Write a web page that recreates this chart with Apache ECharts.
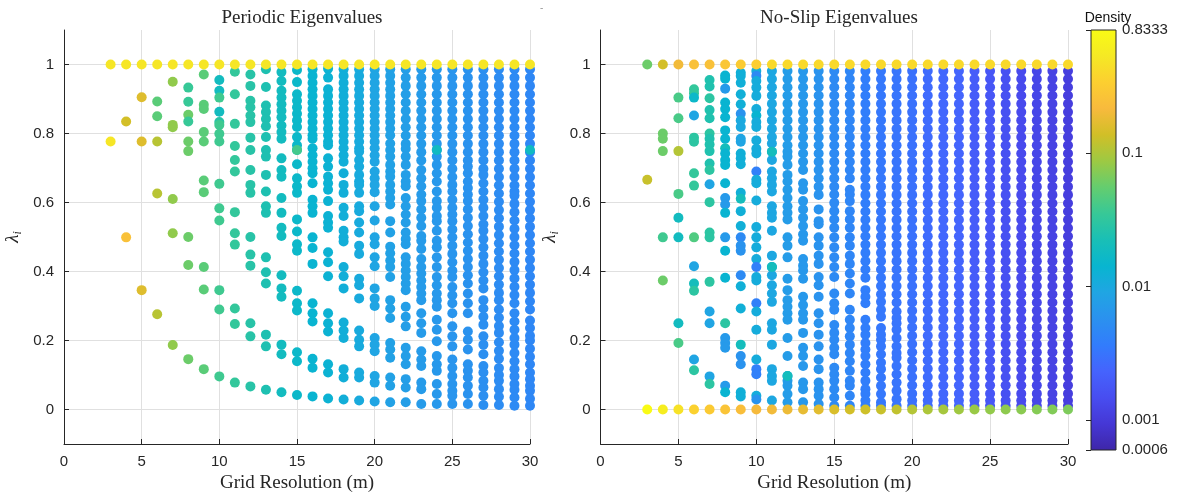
<!DOCTYPE html>
<html><head><meta charset="utf-8">
<script src="https://cdn.jsdelivr.net/npm/echarts@6/dist/echarts.min.js"></script>
<style>html,body{margin:0;padding:0;background:#fff}#c{width:1180px;height:498px}</style>
</head><body><div id="c"></div>
<script>
// ---------- DATA ----------
const gridM = [3,4,5,6,7,8,9,10,11,12,13,14,15,16,17,18,19,20,21,22,23,24,25,26,27,28,29,30];
const yTicks = [0, 0.2, 0.4, 0.6, 0.8, 1];
const xTicksInterval = 5;
const cbMajor = [0.0006, 0.001, 0.01, 0.1, 0.8333];
const cbMajorLabels = ['0.0006', '0.001', '0.01', '0.1', '0.8333'];
const cbMinor = [0.0007,0.0008,0.0009,0.002,0.003,0.004,0.005,0.006,0.007,0.008,0.009,0.02,0.03,0.04,0.05,0.06,0.07,0.08,0.09,0.2,0.3,0.4,0.5,0.6,0.7,0.8];

// Periodic: eigenvalues per grid resolution (excluding the row at 1)
const periodicVals = [
 [0.777],
 [0.835,0.499],
 [0.905,0.777,0.346],
 [0.893,0.850,0.777,0.626,0.276],
 [0.950,0.825,0.818,0.610,0.511,0.187],
 [0.933,0.892,0.854,0.835,0.777,0.749,0.500,0.419,0.146],
 [0.971,0.883,0.871,0.804,0.777,0.664,0.630,0.413,0.348,0.117],
 [0.955,0.924,0.904,0.863,0.833,0.825,0.799,0.777,0.654,0.583,0.548,0.346,0.290,0.096],
 [0.979,0.914,0.828,0.764,0.723,0.690,0.572,0.511,0.478,0.293,0.248,0.078],
 [0.971,0.938,0.895,0.876,0.852,0.833,0.788,0.752,0.694,0.651,0.628,0.500,0.449,0.417,0.250,0.212,0.067],
 [0.986,0.935,0.881,0.862,0.842,0.821,0.790,0.752,0.733,0.680,0.632,0.589,0.570,0.441,0.398,0.365,0.217,0.183,0.057],
 [0.978,0.952,0.924,0.904,0.885,0.866,0.847,0.823,0.804,0.785,0.728,0.694,0.675,0.613,0.570,0.527,0.503,0.389,0.351,0.327,0.188,0.160,0.050],
 [0.984,0.949,0.914,0.895,0.876,0.857,0.838,0.819,0.790,0.766,0.752,0.711,0.670,0.647,0.628,0.551,0.516,0.479,0.460,0.344,0.308,0.287,0.166,0.140,0.042],
 [0.986,0.967,0.947,0.928,0.909,0.890,0.871,0.852,0.833,0.814,0.795,0.785,0.757,0.737,0.718,0.699,0.685,0.656,0.608,0.589,0.570,0.499,0.468,0.422,0.308,0.279,0.255,0.147,0.121,0.038],
 [0.988,0.962,0.928,0.909,0.890,0.871,0.852,0.833,0.814,0.795,0.776,0.766,0.728,0.704,0.675,0.656,0.637,0.604,0.561,0.542,0.527,0.456,0.427,0.386,0.279,0.250,0.226,0.131,0.107,0.032],
 [0.986,0.967,0.947,0.928,0.909,0.890,0.871,0.852,0.833,0.814,0.795,0.776,0.757,0.737,0.718,0.685,0.651,0.628,0.585,0.561,0.518,0.499,0.487,0.413,0.386,0.351,0.252,0.229,0.207,0.117,0.093,0.029],
 [0.986,0.967,0.947,0.928,0.909,0.890,0.871,0.852,0.833,0.814,0.795,0.776,0.757,0.747,0.723,0.704,0.680,0.661,0.651,0.628,0.589,0.575,0.542,0.513,0.475,0.451,0.379,0.360,0.322,0.229,0.202,0.183,0.107,0.093,0.026],
 [0.986,0.967,0.947,0.928,0.909,0.890,0.871,0.852,0.833,0.814,0.795,0.776,0.757,0.737,0.718,0.690,0.670,0.651,0.630,0.589,0.548,0.499,0.479,0.441,0.415,0.351,0.322,0.300,0.207,0.188,0.169,0.097,0.078,0.023],
 [0.986,0.967,0.947,0.928,0.909,0.890,0.871,0.852,0.833,0.814,0.795,0.771,0.752,0.733,0.709,0.690,0.675,0.651,0.632,0.613,0.594,0.546,0.513,0.472,0.453,0.432,0.413,0.384,0.317,0.293,0.265,0.193,0.174,0.150,0.093,0.069,0.021],
 [0.986,0.962,0.938,0.914,0.890,0.866,0.842,0.818,0.794,0.770,0.756,0.733,0.709,0.680,0.661,0.647,0.613,0.589,0.565,0.542,0.513,0.494,0.479,0.441,0.422,0.403,0.384,0.365,0.346,0.298,0.269,0.241,0.179,0.155,0.131,0.088,0.064,0.021],
 [0.986,0.962,0.938,0.914,0.890,0.866,0.842,0.818,0.794,0.770,0.746,0.722,0.694,0.670,0.647,0.623,0.604,0.580,0.556,0.532,0.503,0.489,0.465,0.436,0.413,0.394,0.374,0.355,0.336,0.317,0.279,0.250,0.222,0.169,0.145,0.126,0.078,0.059,0.016],
 [0.986,0.962,0.938,0.914,0.890,0.866,0.842,0.818,0.794,0.770,0.752,0.733,0.709,0.685,0.661,0.632,0.604,0.585,0.561,0.546,0.518,0.489,0.470,0.441,0.413,0.384,0.360,0.336,0.317,0.298,0.260,0.231,0.198,0.155,0.131,0.112,0.074,0.045,0.016],
 [0.986,0.962,0.938,0.914,0.890,0.866,0.842,0.818,0.794,0.770,0.746,0.722,0.698,0.674,0.651,0.632,0.608,0.585,0.565,0.546,0.522,0.499,0.475,0.451,0.427,0.403,0.384,0.355,0.331,0.308,0.279,0.241,0.212,0.183,0.145,0.121,0.097,0.074,0.054,0.040,0.016],
 [0.986,0.962,0.938,0.914,0.890,0.866,0.842,0.818,0.794,0.770,0.746,0.722,0.704,0.685,0.661,0.642,0.623,0.604,0.580,0.556,0.532,0.508,0.484,0.460,0.436,0.413,0.389,0.365,0.336,0.308,0.279,0.226,0.202,0.174,0.131,0.112,0.093,0.069,0.045,0.016],
 [0.986,0.962,0.938,0.914,0.890,0.866,0.842,0.818,0.794,0.770,0.746,0.722,0.698,0.680,0.656,0.632,0.608,0.585,0.561,0.537,0.518,0.494,0.470,0.446,0.422,0.398,0.374,0.351,0.317,0.293,0.269,0.246,0.212,0.188,0.160,0.126,0.107,0.083,0.064,0.040,0.013],
 [0.986,0.962,0.938,0.914,0.890,0.866,0.842,0.818,0.794,0.770,0.746,0.722,0.698,0.674,0.650,0.626,0.602,0.578,0.554,0.530,0.506,0.482,0.458,0.434,0.410,0.386,0.362,0.338,0.317,0.290,0.266,0.242,0.222,0.195,0.170,0.147,0.120,0.100,0.083,0.059,0.037,0.013],
 [0.986,0.962,0.938,0.914,0.890,0.866,0.842,0.818,0.794,0.770,0.746,0.722,0.698,0.674,0.650,0.632,0.620,0.596,0.572,0.548,0.524,0.500,0.476,0.452,0.428,0.404,0.380,0.356,0.332,0.308,0.279,0.255,0.231,0.207,0.188,0.164,0.140,0.117,0.096,0.074,0.057,0.035,0.011],
 [0.986,0.962,0.938,0.914,0.890,0.866,0.842,0.818,0.794,0.770,0.746,0.722,0.698,0.674,0.650,0.626,0.602,0.578,0.554,0.530,0.506,0.482,0.458,0.434,0.410,0.386,0.362,0.338,0.314,0.290,0.258,0.236,0.214,0.200,0.176,0.153,0.131,0.107,0.088,0.069,0.054,0.031,0.011]
];
// density per column (single value) or per point (list)
const periodicDens = [
 [0.5],
 [0.14,0.25],
 0.158,
 [0.05,0.05,0.11,0.11,0.11],
 0.079,
 [0.035,0.035,0.059,0.035,0.059,0.059,0.059,0.059,0.059],
 0.05,
 [0.019,0.019,0.038,0.019,0.028,0.038,0.038,0.038,0.038,0.038,0.038,0.038,0.038,0.038],
 0.033, 0.028, 0.024, 0.019, 0.016, 0.0140, 0.0132, 0.0118, 0.0105,
 0.009, 0.0083, 0.0077, 0.0072, 0.0068, 0.0063, 0.0059, 0.0055, 0.0052, 0.0049, 0.0046
];
const periodicTopDens = 0.5;
const periodicExtra = [[15,0.752,0.04],[24,0.752,0.018],[30,0.752,0.018]];

// No-slip: eigenvalues per grid resolution (excluding rows at 0 and 1)
const noslipFull = [0.981,0.958,0.934,0.910,0.886,0.862,0.838,0.814,0.790,0.766,0.742,0.718,0.694,0.670,0.646,0.622,0.598,0.574,0.550,0.526,0.502,0.478,0.454,0.430,0.406,0.382,0.358,0.334,0.310,0.286,0.262,0.238,0.214,0.190,0.166,0.142,0.118,0.094,0.070,0.046,0.026,0.011];
const noslipVals = [
 [0.666],
 [0.800,0.785,0.749,0.499,0.374],
 [0.904,0.844,0.749,0.625,0.556,0.499,0.250,0.193],
 [0.928,0.917,0.904,0.852,0.788,0.776,0.685,0.649,0.499,0.415,0.365,0.344,0.145,0.114],
 [0.955,0.936,0.902,0.868,0.844,0.800,0.785,0.768,0.749,0.713,0.694,0.653,0.601,0.513,0.499,0.370,0.284,0.250,0.096,0.074],
 [0.968,0.959,0.930,0.890,0.871,0.847,0.809,0.785,0.757,0.742,0.723,0.709,0.656,0.613,0.594,0.570,0.499,0.460,0.382,0.250,0.207,0.193,0.179,0.069,0.050],
 [0.976,0.967,0.947,0.914,0.885,0.857,0.838,0.819,0.785,0.776,0.742,0.728,0.711,0.628,0.611,0.575,0.532,0.499,0.475,0.460,0.389,0.357,0.293,0.188,0.155,0.131,0.050,0.038],
 [0.981,0.967,0.952,0.933,0.909,0.871,0.852,0.833,0.819,0.780,0.756,0.742,0.690,0.666,0.656,0.606,0.529,0.499,0.470,0.436,0.413,0.384,0.374,0.308,0.284,0.231,0.145,0.117,0.102,0.040,0.029],
 [0.981,0.958,0.934,0.910,0.886,0.862,0.838,0.814,0.790,0.771,0.747,0.723,0.690,0.670,0.651,0.632,0.589,0.570,0.556,0.518,0.446,0.413,0.389,0.360,0.336,0.312,0.250,0.231,0.188,0.117,0.097,0.083,0.026],
 [0.981,0.958,0.934,0.910,0.886,0.862,0.838,0.814,0.790,0.766,0.747,0.733,0.709,0.680,0.661,0.637,0.613,0.589,0.570,0.551,0.499,0.475,0.441,0.379,0.346,0.317,0.298,0.279,0.260,0.207,0.155,0.097,0.083,0.069,0.045,0.021],
 [0.981,0.958,0.934,0.910,0.886,0.862,0.838,0.814,0.790,0.766,0.742,0.718,0.694,0.656,0.637,0.604,0.580,0.556,0.532,0.508,0.489,0.436,0.417,0.403,0.379,0.327,0.303,0.279,0.260,0.222,0.179,0.155,0.126,0.078,0.059,0.021],
 [0.981,0.958,0.934,0.910,0.886,0.862,0.838,0.814,0.790,0.766,0.742,0.718,0.694,0.670,0.646,0.622,0.580,0.546,0.537,0.499,0.475,0.446,0.422,0.384,0.360,0.327,0.279,0.250,0.217,0.183,0.145,0.117,0.078,0.059,0.040,0.016],
 [0.981,0.958,0.934,0.910,0.886,0.862,0.838,0.814,0.790,0.766,0.742,0.718,0.694,0.670,0.646,0.623,0.599,0.575,0.551,0.527,0.499,0.470,0.441,0.413,0.384,0.336,0.308,0.289,0.245,0.222,0.202,0.179,0.160,0.121,0.102,0.083,0.059,0.035,0.011],
 [0.981,0.958,0.934,0.910,0.886,0.862,0.838,0.814,0.790,0.766,0.742,0.718,0.694,0.670,0.637,0.623,0.604,0.575,0.551,0.527,0.499,0.475,0.446,0.422,0.394,0.365,0.336,0.289,0.260,0.236,0.212,0.188,0.164,0.140,0.112,0.083,0.069,0.040,0.011],
 [0.981,0.958,0.934,0.910,0.886,0.862,0.838,0.814,0.790,0.766,0.742,0.718,0.694,0.670,0.646,0.622,0.598,0.574,0.550,0.526,0.502,0.478,0.454,0.430,0.406,0.382,0.346,0.327,0.308,0.260,0.236,0.217,0.193,0.174,0.155,0.131,0.107,0.083,0.059,0.045,0.026,0.011],
 [0.981,0.958,0.934,0.910,0.886,0.862,0.838,0.814,0.790,0.766,0.742,0.718,0.694,0.670,0.646,0.622,0.598,0.574,0.550,0.526,0.502,0.478,0.454,0.430,0.406,0.382,0.358,0.334,0.312,0.289,0.269,0.236,0.217,0.202,0.183,0.160,0.136,0.117,0.093,0.069,0.045,0.021,0.011],
 [0.981,0.958,0.934,0.910,0.886,0.862,0.838,0.814,0.790,0.766,0.742,0.718,0.694,0.670,0.646,0.622,0.598,0.574,0.550,0.526,0.502,0.478,0.454,0.430,0.406,0.382,0.358,0.334,0.310,0.284,0.265,0.250,0.231,0.207,0.183,0.164,0.150,0.126,0.102,0.078,0.054,0.030,0.011],
 noslipFull, noslipFull, noslipFull, noslipFull, noslipFull, noslipFull,
 noslipFull, noslipFull, noslipFull, noslipFull, noslipFull
];
const noslipDens = [
 [0.126],
 [0.059,0.059,0.059,0.038,0.059],
 [0.042,0.042,0.106,0.042,0.019,0.019,0.019,0.042],
 [0.033,0.033,0.016,0.009,0.03,0.03,0.033,0.033,0.045,0.009,0.02,0.03,0.009,0.03],
 [0.025,0.025,0.03,0.025,0.025,0.03,0.025,0.025,0.025,0.025,0.03,0.009,0.03,0.03,0.03,0.03,0.009,0.009,0.009,0.03],
 [0.014,0.014,0.007,0.014,0.014,0.014,0.014,0.014,0.02,0.014,0.014,0.014,0.014,0.007,0.007,0.014,0.007,0.014,0.014,0.03,0.007,0.007,0.007,0.007,0.014],
 [0.012,0.012,0.012,0.012,0.012,0.006,0.01,0.01,0.009,0.009,0.012,0.012,0.012,0.012,0.02,0.012,0.012,0.005,0.006,0.006,0.005,0.012,0.012,0.02,0.006,0.006,0.012,0.012],
 [0.011,0.005,0.011,0.011,0.011,0.011,0.014,0.011,0.011,0.011,0.011,0.011,0.004,0.011,0.011,0.011,0.011,0.011,0.011,0.011,0.004,0.011,0.011,0.004,0.011,0.011,0.011,0.004,0.004,0.011,0.006],
 0.0095, 0.0074, 0.0067, 0.006, 0.005, 0.0045, 0.0038, 0.0034, 0.0032,
 0.003, 0.0027, 0.0025, 0.0024, 0.002, 0.0018, 0.0016, 0.0014, 0.0013, 0.0012, 0.0011
];
const noslipTopDens = [0.059,0.14,0.2,0.25,0.25,0.28,0.31,0.33,0.4,0.4,0.4,0.4,0.4,0.4,0.4,0.4,0.4,0.4,0.4,0.4,0.4,0.4,0.4,0.4,0.4,0.4,0.4,0.4];
const noslipBottomDens = [0.83,0.59,0.47,0.35,0.3,0.265,0.236,0.21,0.2,0.188,0.177,0.167,0.149,0.14,0.133,0.126,0.119,0.106,0.1,0.094,0.089,0.084,0.08,0.077,0.075,0.072,0.07,0.068];
const noslipExtra = [[11,0.747,0.02],[11,0.413,0.02],[12,0.097,0.02]];

// ---------- BUILD ----------
const PARULA = ['#3e26a8','#4537d5','#484df0','#4563fd','#327cfc','#2b91ef','#20a5e3','#08b5d0','#19bfb6','#37c897','#64cd6f','#9dc943','#d1bf27','#f8ba3d','#fccf30','#f5e924','#f9fb15'];
const LMIN = Math.log10(0.0006), LMAX = Math.log10(0.8333);
function pts(vals, dens, topD, botD, extra) {
  const out = [];
  gridM.forEach((m, i) => {
    const v = vals[i], d = dens[i];
    v.forEach((lam, k) => {
      const dd = Array.isArray(d) ? (d[k] !== undefined ? d[k] : d[0]) : d;
      out.push([m, lam, Math.log10(dd)]);
    });
  });
  gridM.forEach((m, i) => {
    if (topD !== null) out.push([m, 1, Math.log10(Array.isArray(topD) ? topD[i] : topD)]);
    if (botD !== null) out.push([m, 0, Math.log10(Array.isArray(botD) ? botD[i] : botD)]);
  });
  extra.forEach(e => out.push([e[0], e[1], Math.log10(e[2])]));
  return out;
}
const sans = 'Liberation Sans';
const serif = 'Liberation Serif';
const ink = '#262626';
function xAx(gi) {
  return {
    gridIndex: gi, type: 'value', min: 0, max: 30, interval: xTicksInterval,
    axisLine: {show: true, onZero: false, lineStyle: {color: ink, width: 1}},
    axisTick: {show: true, inside: true, length: 5, lineStyle: {color: ink}},
    axisLabel: {color: ink, fontFamily: sans, fontSize: 15, margin: 10},
    splitLine: {show: true, lineStyle: {color: '#e0e0e0', width: 1}},
    name: 'Grid Resolution (m)', nameLocation: 'middle', nameGap: 30,
    nameTextStyle: {fontFamily: serif, fontSize: 19, color: ink}
  };
}
function yAx(gi) {
  return {
    gridIndex: gi, type: 'value', min: -0.1, max: 1.1,
    axisLine: {show: true, onZero: false, lineStyle: {color: ink, width: 1}},
    axisTick: {show: true, inside: true, length: 5, lineStyle: {color: ink}, customValues: yTicks},
    axisLabel: {color: ink, fontFamily: sans, fontSize: 15, margin: 10, customValues: yTicks,
      formatter: v => String(Math.round(v * 10) / 10)},
    splitLine: {show: true, lineStyle: {color: '#e0e0e0', width: 1}},
    name: '{a|λ}{b|i}', nameLocation: 'middle', nameGap: 40, nameRotate: 90,
    nameTextStyle: {rich: {
      a: {fontFamily: serif, fontStyle: 'italic', fontSize: 19, color: ink},
      b: {fontFamily: serif, fontStyle: 'italic', fontSize: 12, color: ink, padding: [10, 0, 0, 0]}
    }}
  };
}
const chart = echarts.init(document.getElementById('c'), null, {renderer: 'canvas'});
chart.setOption({
  animation: false,
  backgroundColor: '#fff',
  title: [
    {text: 'Periodic Eigenvalues', left: 297, top: 4, textAlign: 'center',
     textStyle: {fontFamily: serif, fontSize: 19, fontWeight: 'normal', color: ink}},
    {text: 'No-Slip Eigenvalues', left: 834, top: 4, textAlign: 'center',
     textStyle: {fontFamily: serif, fontSize: 19, fontWeight: 'normal', color: ink}},
    {text: 'Density', left: 1103, top: 6, textAlign: 'center',
     textStyle: {fontFamily: sans, fontSize: 14, fontWeight: 'normal', color: '#111'}}
  ],
  grid: [
    {left: 64, top: 30, width: 466, height: 419},
    {left: 600.5, top: 30, width: 467.5, height: 419},
    {left: 1091, top: 30, width: 25, height: 420}
  ],
  xAxis: [xAx(0), xAx(1), {gridIndex: 2, type: 'value', min: 0, max: 1, show: false}],
  yAxis: [yAx(0), yAx(1),
    {gridIndex: 2, type: 'value', min: LMIN, max: LMAX, position: 'right',
     axisLine: {show: false},
     axisTick: {show: true, inside: true, length: 5, lineStyle: {color: ink}, customValues: cbMajor.map(Math.log10)},
     axisLabel: {show: true, color: ink, fontFamily: sans, fontSize: 15, margin: 6,
       customValues: cbMajor.map(Math.log10),
       formatter: v => { let best = 0, bd = 1e9; cbMajor.forEach((c, i) => { const d = Math.abs(Math.log10(c) - v); if (d < bd) { bd = d; best = i; } }); return cbMajorLabels[best]; }},
     splitLine: {show: false}},
    {gridIndex: 2, type: 'value', min: LMIN, max: LMAX, position: 'right',
     axisLine: {show: false},
     axisTick: {show: true, inside: true, length: 3, lineStyle: {color: ink}, customValues: cbMinor.map(Math.log10)},
     axisLabel: {show: false}, splitLine: {show: false}}
  ],
  visualMap: {type: 'continuous', show: false, dimension: 2, seriesIndex: [0, 1],
    min: LMIN, max: LMAX, inRange: {color: PARULA}},
  series: [
    {type: 'scatter', xAxisIndex: 0, yAxisIndex: 0, symbolSize: 10, itemStyle: {opacity: 1},
     data: pts(periodicVals, periodicDens, periodicTopDens, null, periodicExtra)},
    {type: 'scatter', xAxisIndex: 1, yAxisIndex: 1, symbolSize: 10, itemStyle: {opacity: 1},
     data: pts(noslipVals, noslipDens, noslipTopDens, noslipBottomDens, noslipExtra)}
  ],
  graphic: [
    {type: 'rect', shape: {x: 1091, y: 30, width: 25, height: 420}, z: 10,
     style: {fill: new echarts.graphic.LinearGradient(0, 1, 0, 0,
       PARULA.map((c, i) => ({offset: i / (PARULA.length - 1), color: c}))),
       stroke: ink, lineWidth: 1}},
    {type: 'text', left: 540, top: 3, z: 10, style: {text: '-', fill: '#999', font: '10px ' + sans}}
  ]
});
</script></body></html>
